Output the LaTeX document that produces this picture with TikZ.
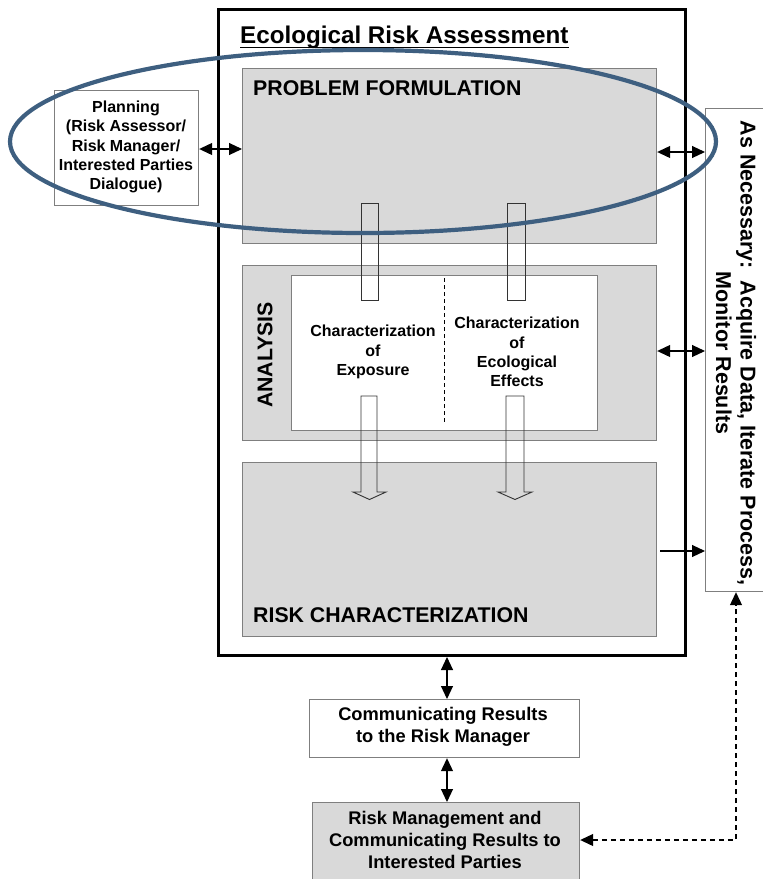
\documentclass[tikz,border=0pt]{standalone}
\usepackage{fontspec}
\setmainfont{Liberation Sans}
\usetikzlibrary{arrows.meta,calc}
\definecolor{boxgray}{HTML}{D9D9D9}
\definecolor{edgegray}{HTML}{7F7F7F}
\definecolor{ellblue}{HTML}{3E5F80}
\begin{document}
\begin{tikzpicture}[x=1pt,y=-1pt,
  graybox/.style={draw=edgegray, fill=boxgray, line width=1.2pt, inner sep=0pt, anchor=north west},
  whitebox/.style={draw=edgegray, fill=white, line width=1.2pt, inner sep=0pt, anchor=north west},
  hfont/.style={font=\fontsize{21.3}{24}\selectfont\bfseries},
  sfont/.style={font=\fontsize{16}{19.3}\selectfont\bfseries, align=center, inner sep=0pt},
  mfont/.style={font=\fontsize{18.3}{22}\selectfont\bfseries, align=center},
  conn/.style={line width=1.1pt},
  tip/.style={conn, -{Triangle[length=13pt,width=12pt]}},
  dtip/.style={conn, {Triangle[length=13pt,width=12pt]}-{Triangle[length=13pt,width=12pt]}},
  hollow/.style={draw=black!80, line width=0.9pt}
]
\useasboundingbox (0,0) rectangle (763,879);
\fill[white] (0,0) rectangle (763,879);

% outer box
\node[draw, line width=3pt, fill=white, minimum width=467pt, minimum height=646pt, anchor=north west, inner sep=0pt] (era) at (217,8) {};
\node[font=\fontsize{24.2}{27}\selectfont\bfseries, anchor=base west, inner sep=0pt] (title) at (240,43) {Ecological Risk Assessment};
\draw[line width=1.8pt] ($(title.base west)+(0,4.5)$) -- ($(title.base east)+(0,4.5)$);

% main boxes
\node[graybox, minimum width=414pt, minimum height=175pt] (pf) at (242,68) {};
\node[hfont, anchor=base west, inner sep=0pt] (pflabel) at (253,95) {PROBLEM FORMULATION};

\node[graybox, minimum width=414pt, minimum height=175pt] (an) at (242,265) {};
\node[whitebox, minimum width=306pt, minimum height=155pt] (inner) at (291,275) {};
\node[hfont, rotate=90, inner sep=0pt] (anlabel) at (265,355) {ANALYSIS};
\coordinate (dtop) at (444,278);
\coordinate (dbot) at (444,423);
\draw[dashed, line width=0.9pt, dash pattern=on 4pt off 3pt] (dtop) -- (dbot);
\node[sfont] (expo) at (373,352) {Characterization\\of\\Exposure};
\node[sfont] (effe) at (517,352) {Characterization\\of\\Ecological\\Effects};

\node[graybox, minimum width=414pt, minimum height=174pt] (rc) at (242,462) {};
\node[hfont, anchor=base west, inner sep=0pt] (rclabel) at (253,622) {RISK CHARACTERIZATION};

% hollow bars from problem formulation to analysis
\draw[hollow] (361,203) rectangle (378,300);
\draw[hollow] (507,203) rectangle (525,300);
% hollow arrows from analysis to risk characterization
\draw[hollow] (361,396) -- (361,492) -- (353,492) -- (369.5,499.5) -- (386,492) -- (377,492) -- (377,396) -- cycle;
\draw[hollow] (506,396) -- (506,492) -- (498,492) -- (515,499.5) -- (532,492) -- (524,492) -- (524,396) -- cycle;

% planning
\node[whitebox, minimum width=144pt, minimum height=115pt] (plan) at (54,90) {};
\node[sfont] (plantext) at (126,147) {Planning\\(Risk Assessor/\\Risk Manager/\\Interested Parties\\Dialogue)};
\coordinate (y149) at (0,149);
\draw[dtip] (plan.east |- y149) -- (pf.west |- y149);

% as necessary box
\node[whitebox, minimum width=70pt, minimum height=483pt] (nec) at (705,108) {};
\node[font=\fontsize{21.5}{24.5}\selectfont\bfseries, align=center, rotate=-90, inner sep=0pt] (nectext) at (736,353) {As Necessary:\ \ Acquire Data, Iterate Process,\\Monitor Results};
\coordinate (y152) at (0,152);
\coordinate (y351) at (0,351);
\draw[dtip] (pf.east |- y152) -- (nec.west |- y152);
\draw[dtip] (an.east |- y351) -- (nec.west |- y351);
\coordinate (rcout) at (660,551);
\draw[tip] (rcout) -- (nec.west |- rcout);

% communication boxes
\node[whitebox, minimum width=270pt, minimum height=58pt] (comm) at (309,699) {};
\node[mfont, inner sep=0pt] (commtext) at (443,727) {Communicating Results\\to the Risk Manager};
\node[graybox, minimum width=267pt, minimum height=100pt] (rm) at (312,802) {};
\node[mfont, inner sep=0pt] (rmtext) at (445,840) {Risk Management and\\Communicating Results to\\Interested Parties};
\coordinate (cx) at (447,0);
\draw[dtip] (cx |- era.south) -- (cx |- comm.north);
\draw[dtip] (cx |- comm.south) -- (cx |- rm.north);
\coordinate (dcorner) at (736,840);
\draw[conn, dashed, dash pattern=on 5pt off 4pt, {Triangle[length=13pt,width=12pt]}-{Triangle[length=13pt,width=12pt]}] (rm.east |- dcorner) -- (dcorner) -- (dcorner |- nec.south);

% ellipse
\draw[ellblue, line width=4.2pt] (363,141.5) ellipse [x radius=353pt, y radius=91.5pt];
\end{tikzpicture}
\end{document}
